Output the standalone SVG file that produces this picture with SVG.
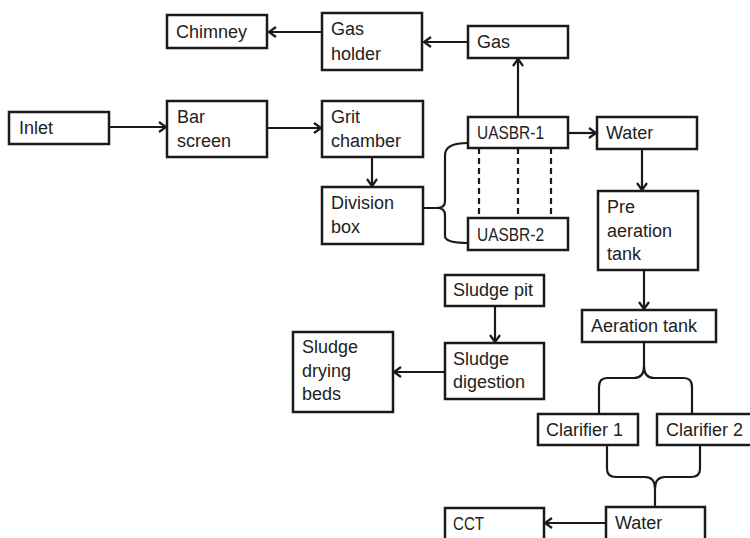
<svg xmlns="http://www.w3.org/2000/svg" width="750" height="538" viewBox="0 0 750 538">
<defs>
<marker id="ah" markerUnits="userSpaceOnUse" markerWidth="12" markerHeight="12" refX="9" refY="6" orient="auto">
<path d="M2,1 L9,6 L2,11" fill="none" stroke="#1a1a1a" stroke-width="2.2"/>
</marker>
<style>
.box{fill:#fff;stroke:#1a1a1a;stroke-width:2.5}
.t{font-family:"Liberation Sans",Arial,sans-serif;font-size:18px;fill:#222}
.c{fill:none;stroke:#1a1a1a;stroke-width:2.2}
.a{fill:none;stroke:#1a1a1a;stroke-width:2.2;marker-end:url(#ah)}
.d{fill:none;stroke:#1a1a1a;stroke-width:2.2;stroke-dasharray:6,4}
</style>
</defs>
<rect width="750" height="538" fill="#fff"/>
<g id="connectors">
<line class="a" x1="322" y1="32" x2="269" y2="32"/>
<line class="a" x1="468" y1="42" x2="424" y2="42"/>
<line class="a" x1="518" y1="117" x2="518" y2="59"/>
<line class="a" x1="109" y1="127" x2="166" y2="127"/>
<line class="a" x1="267" y1="128" x2="321" y2="128"/>
<line class="a" x1="372" y1="157" x2="372" y2="186"/>
<line class="a" x1="568" y1="133" x2="596" y2="133"/>
<line class="a" x1="642" y1="149" x2="642" y2="190"/>
<line class="a" x1="644" y1="270" x2="644" y2="309"/>
<line class="a" x1="495" y1="306" x2="495" y2="342"/>
<line class="a" x1="445" y1="372" x2="394" y2="372"/>
<line class="a" x1="606" y1="523" x2="545" y2="523"/>
<path class="c" d="M468,143 Q445,143 445,155 L445,201 Q445,208 437,208 L423,208 M437,208 Q445,208 445,215 L445,236 Q445,243 468,243"/>
<line class="d" x1="479" y1="148" x2="479" y2="218"/>
<line class="d" x1="518" y1="148" x2="518" y2="218"/>
<line class="d" x1="551" y1="148" x2="551" y2="218"/>
<path class="c" d="M644,342 L644,366 Q644,378 634,378 L607,378 Q599,378 599,387 L599,414 M644,366 Q644,378 654,378 L684,378 Q692,378 692,387 L692,414"/>
<path class="c" d="M607,445 L607,469 Q607,477 616,477 L645,477 Q655,477 655,489 L655,507 M700,445 L700,469 Q700,477 691,477 L665,477 Q655,477 655,489"/>
</g>
<g id="chimney"><rect class="box" x="167" y="15" width="100" height="33"/><text class="t" x="176" y="38">Chimney</text></g>
<g id="gas-holder"><rect class="box" x="322" y="13" width="100" height="57"/><text class="t" x="331" y="35">Gas</text><text class="t" x="331" y="60">holder</text></g>
<g id="gas"><rect class="box" x="468" y="26" width="100" height="32"/><text class="t" x="477" y="48">Gas</text></g>
<g id="inlet"><rect class="box" x="9" y="112" width="100" height="32"/><text class="t" x="19" y="134">Inlet</text></g>
<g id="bar-screen"><rect class="box" x="167" y="101" width="100" height="56"/><text class="t" x="177" y="123">Bar</text><text class="t" x="177" y="147">screen</text></g>
<g id="grit-chamber"><rect class="box" x="322" y="101" width="101" height="56"/><text class="t" x="331" y="123">Grit</text><text class="t" x="331" y="147">chamber</text></g>
<g id="division-box"><rect class="box" x="322" y="187" width="101" height="57"/><text class="t" x="331" y="209">Division</text><text class="t" x="331" y="233">box</text></g>
<g id="uasbr-1"><rect class="box" x="468" y="117" width="100" height="31"/><text class="t" x="477" y="139" textLength="67" lengthAdjust="spacingAndGlyphs">UASBR-1</text></g>
<g id="uasbr-2"><rect class="box" x="468" y="218" width="100" height="32"/><text class="t" x="477" y="241" textLength="67" lengthAdjust="spacingAndGlyphs">UASBR-2</text></g>
<g id="water-1"><rect class="box" x="597" y="117" width="100" height="32"/><text class="t" x="606" y="139">Water</text></g>
<g id="pre-aeration-tank"><rect class="box" x="598" y="191" width="100" height="79"/><text class="t" x="607" y="213">Pre</text><text class="t" x="607" y="237">aeration</text><text class="t" x="607" y="260">tank</text></g>
<g id="aeration-tank"><rect class="box" x="582" y="310" width="134" height="32"/><text class="t" x="591" y="332">Aeration tank</text></g>
<g id="sludge-pit"><rect class="box" x="445" y="275" width="99" height="31"/><text class="t" x="453" y="296">Sludge pit</text></g>
<g id="sludge-digestion"><rect class="box" x="445" y="343" width="99" height="56"/><text class="t" x="453" y="365">Sludge</text><text class="t" x="453" y="388">digestion</text></g>
<g id="sludge-drying-beds"><rect class="box" x="293" y="332" width="100" height="80"/><text class="t" x="302" y="353">Sludge</text><text class="t" x="302" y="377">drying</text><text class="t" x="302" y="400">beds</text></g>
<g id="clarifier-1"><rect class="box" x="538" y="414" width="100" height="31"/><text class="t" x="546" y="436">Clarifier 1</text></g>
<g id="clarifier-2"><rect class="box" x="657" y="414" width="100" height="31"/><text class="t" x="666" y="436">Clarifier 2</text></g>
<g id="water-2"><rect class="box" x="606" y="507" width="99" height="40"/><text class="t" x="615" y="529">Water</text></g>
<g id="cct"><rect class="box" x="445" y="508" width="99" height="40"/><text class="t" x="453" y="530" textLength="31" lengthAdjust="spacingAndGlyphs">CCT</text></g>
</svg>
